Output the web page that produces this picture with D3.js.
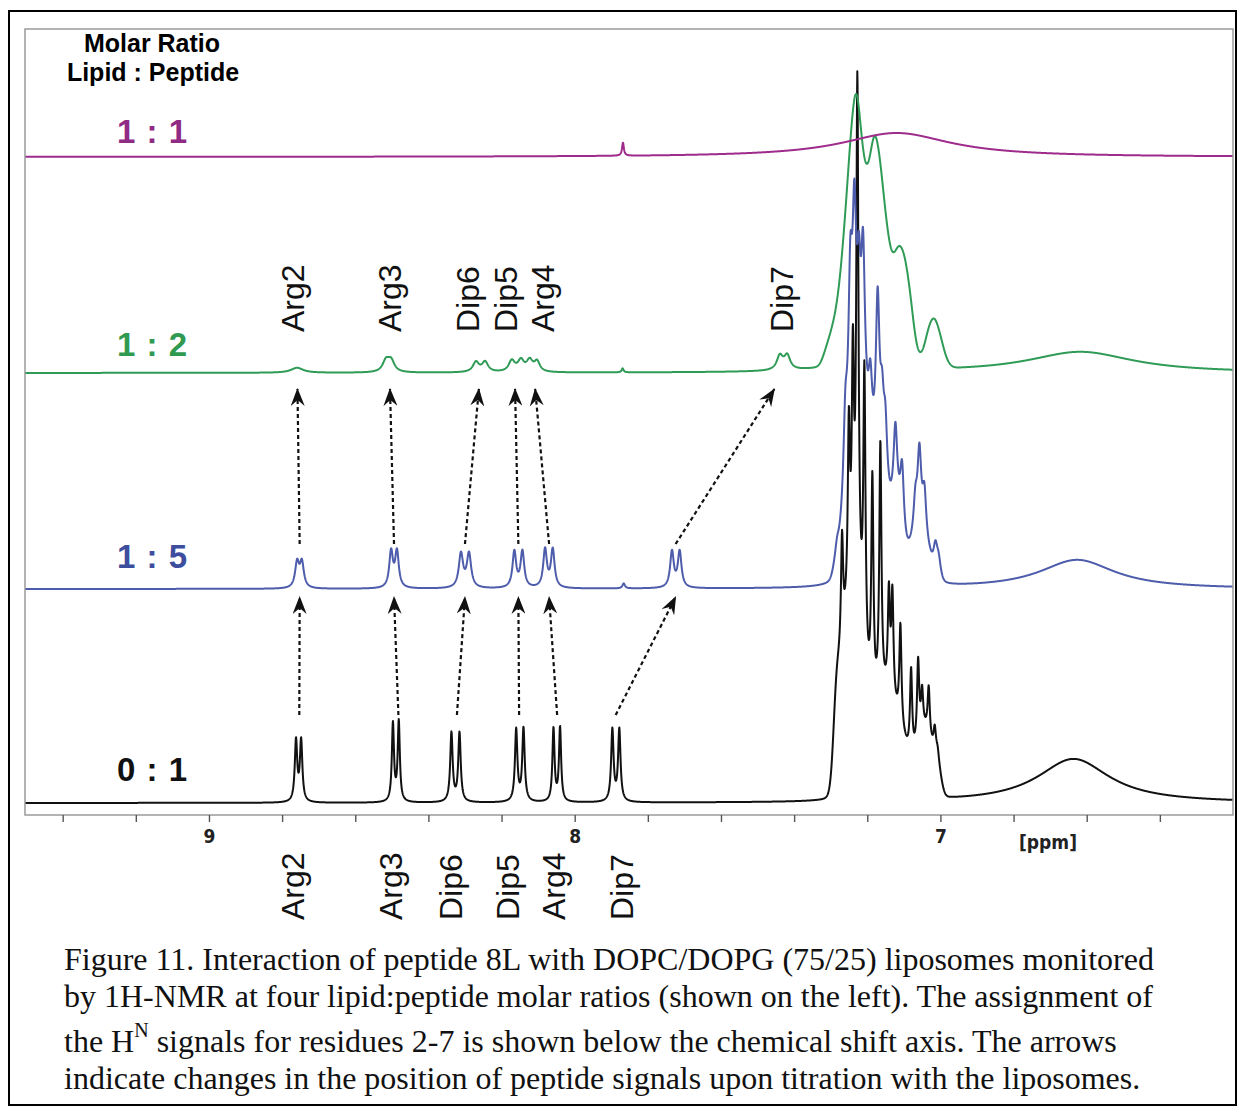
<!DOCTYPE html>
<html>
<head>
<meta charset="utf-8">
<title>Figure 11</title>
<script src="https://cdn.jsdelivr.net/npm/d3@7/dist/d3.min.js"></script>
<style>
  body { margin: 0; background: #fff; }
  text { font-family: "Liberation Sans", Arial, Helvetica, sans-serif; }
  .cond { font-family: "Liberation Sans Narrow", "DejaVu Sans Condensed", "Liberation Sans", Arial, sans-serif; font-weight: bold; }
  .caption { font-family: "Liberation Serif", "Times New Roman", serif; font-size: 32px; }
</style>
</head>
<body>
<svg width="1239" height="1107"></svg>
<script>
// ---- values ----
var ppmRange = [9.503, 6.2];            // axis runs high -> low ppm
var tickPpm = [9.4, 9.2, 9, 8.8, 8.6, 8.4, 8.2, 8, 7.8, 7.6, 7.4, 7.2, 7, 6.8, 6.6, 6.4];
var labelledTicks = [9, 8, 7];

var ratioNames = ["0 : 1", "1 : 5", "1 : 2", "1 : 1"];
var stackLevel = [12, 226, 442, 658];   // vertical stacking of the four traces

// lorentzian lines [ppm, height, half width]
var lines01 = [
  [8.762, 61, 0.004], [8.748, 61, 0.004],
  [8.497, 78, 0.0035], [8.481, 80, 0.0035],
  [8.337, 69, 0.004], [8.315, 69, 0.004],
  [8.160, 72, 0.004], [8.140, 73, 0.004],
  [8.058, 73, 0.0035], [8.040, 74, 0.0035],
  [7.897, 72, 0.004], [7.878, 72, 0.004],
  [7.2690, 110, 0.0035], [7.2503, 170, 0.0035], [7.2394, 220, 0.0035], [7.2271, 505, 0.0035],
  [7.2079, 280, 0.0035], [7.1861, 220, 0.0035], [7.1642, 250, 0.0035], [7.1409, 100, 0.0035],
  [7.1313, 105, 0.0035], [7.1094, 100, 0.0035], [7.0802, 85, 0.0035], [7.0610, 80, 0.0035],
  [7.0501, 38, 0.0035], [7.0320, 48, 0.0035], [7.0156, 20, 0.0035], [7.0074, 6, 0.0035],
  [6.636, 44, 0.12]
];
// gaussian bands under the crowded aromatic region [ppm, height, sigma]
var bands01 = [
  [7.2853, 50, 0.008], [7.2716, 95, 0.0137], [7.2497, 125, 0.0137], [7.2271, 140, 0.0137],
  [7.2052, 70, 0.0137], [7.1833, 50, 0.0137], [7.1614, 67, 0.0137], [7.1395, 62, 0.0137],
  [7.1176, 52, 0.0137], [7.0958, 32, 0.0137], [7.0739, 20, 0.0137], [7.0520, 45, 0.0137],
  [7.0301, 45, 0.0137], [7.0109, 25, 0.008], [7.0000, 10, 0.008]
];

var lines15 = [
  [8.759, 25, 0.0065], [8.746, 25, 0.0065],
  [8.502, 36, 0.006], [8.486, 36, 0.006],
  [8.311, 34, 0.007], [8.289, 34, 0.007],
  [8.165, 36, 0.006], [8.143, 36, 0.006],
  [8.081, 38, 0.006], [8.060, 38, 0.006],
  [7.866, 5, 0.004],
  [7.734, 36, 0.006], [7.713, 36, 0.006],
  [7.2826, 10, 0.006], [7.2600, 70, 0.006], [7.2463, 140, 0.006], [7.2353, 165, 0.006],
  [7.2230, 100, 0.006], [7.2115, 150, 0.006], [7.1916, 60, 0.006], [7.1716, 160, 0.006],
  [7.1596, 60, 0.006], [7.1505, 60, 0.006], [7.1231, 78, 0.006], [7.1048, 65, 0.006],
  [7.0684, 35, 0.006], [7.0575, 78, 0.006], [7.0438, 45, 0.006], [7.0137, 20, 0.006],
  [7.0046, 10, 0.006],
  [6.626, 29, 0.125]
];
var bands15 = [
  [7.2853, 10, 0.008], [7.2662, 30, 0.0137], [7.2463, 95, 0.0137], [7.2271, 115, 0.0137],
  [7.2052, 100, 0.0137], [7.1833, 70, 0.0137], [7.1614, 72, 0.0137], [7.1395, 35, 0.0137],
  [7.1176, 55, 0.0137], [7.0958, 10, 0.0137], [7.0739, 25, 0.0137], [7.0520, 35, 0.0137],
  [7.0301, 16, 0.0137], [7.0082, 12, 0.008]
];

var lines12 = [
  [8.759, 5, 0.02],
  [8.516, 11, 0.011], [8.502, 11, 0.011],
  [8.270, 10, 0.01], [8.245, 10, 0.01],
  [8.172, 11, 0.01], [8.147, 11, 0.01],
  [8.123, 11, 0.01], [8.103, 10, 0.009],
  [7.869, 4, 0.003],
  [7.439, 14, 0.01], [7.419, 14, 0.01],
  [7.23, 12, 0.08],
  [6.617, 21, 0.176]
];
var bands12 = [
  [7.3119, 12, 0.011], [7.2955, 22, 0.011], [7.2791, 38, 0.011], [7.2627, 78, 0.011],
  [7.2463, 132, 0.011], [7.2299, 180, 0.011], [7.2135, 120, 0.011], [7.1970, 108, 0.011],
  [7.1806, 148, 0.011], [7.1642, 122, 0.011], [7.1478, 84, 0.011], [7.1313, 60, 0.011],
  [7.1149, 76, 0.011], [7.0985, 70, 0.011], [7.0821, 46, 0.011], [7.0657, 8, 0.011],
  [7.0492, 6, 0.011], [7.0328, 26, 0.011], [7.0164, 34, 0.011], [7.0000, 20, 0.011],
  [6.9836, 4, 0.011]
];

var lines11 = [
  [7.868, 13, 0.003],
  [7.12, 24, 0.18]
];
var bands11 = [];

// residue assignments: chemical shift of each doublet in three of the spectra
var residues = ["Arg2", "Arg3", "Dip6", "Dip5", "Arg4", "Dip7"];
var shift01 = [8.753, 8.482, 8.322, 8.152, 8.048, 7.888];
var shift15 = [8.752, 8.494, 8.300, 8.154, 8.070, 7.724];
var shift12 = [8.758, 8.505, 8.262, 8.163, 8.108, 7.454];
var topLabelPpm = [8.763, 8.498, 8.285, 8.181, 8.080, 7.427];
var bottomLabelPpm = [8.762, 8.494, 8.330, 8.174, 8.048, 7.862];

var captionLines = [
  "Figure 11. Interaction of peptide 8L with DOPC/DOPG (75/25) liposomes monitored",
  "by 1H-NMR at four lipid:peptide molar ratios (shown on the left). The assignment of",
  null,
  "indicate changes in the position of peptide signals upon titration with the liposomes."
];

// ---- drawing ----
var traceColors = ["#111111", "#4d5cab", "#2f9b57", "#9f2b8d"];
var nameColors = ["#111111", "#3d4e9e", "#2f9a50", "#8f2a85"];
var nameBaseline = [781, 568, 356, 143];

var svg = d3.select("svg");
var plot = {left: 25, right: 1233, top: 29, bottom: 815};

var x = d3.scaleLinear().domain(ppmRange).range([plot.left, plot.right]);
var y = d3.scaleLinear().domain([0, 786]).range([plot.bottom, plot.top]);

function lorentz(p, d){ var u = (p - d[0]) / d[2]; return d[1] / (1 + u * u); }
function gauss(p, d){ var u = (p - d[0]) / d[2]; return d[1] * Math.exp(-0.5 * u * u); }

var nPts = 5000;
var grid = d3.range(nPts + 1).map(function(i){
  return ppmRange[0] + (ppmRange[1] - ppmRange[0]) * i / nPts;
});

function trace(lines, bands){
  return grid.map(function(p){
    var v = 0;
    lines.forEach(function(d){ v += lorentz(p, d); });
    bands.forEach(function(d){ v += gauss(p, d); });
    return [p, v];
  });
}

var spectra = [
  {lines: lines01, bands: bands01},
  {lines: lines15, bands: bands15},
  {lines: lines12, bands: bands12},
  {lines: lines11, bands: bands11}
];

// outer border
svg.append("rect")
  .attr("x", 9).attr("y", 11).attr("width", 1227).attr("height", 1094)
  .attr("fill", "none").attr("stroke", "#000").attr("stroke-width", 2);

svg.append("defs").append("clipPath").attr("id", "clip")
  .append("rect")
  .attr("x", plot.left).attr("y", plot.top)
  .attr("width", plot.right - plot.left).attr("height", plot.bottom - plot.top);

var chart = svg.append("g").attr("clip-path", "url(#clip)");

spectra.forEach(function(s, i){
  var line = d3.line()
    .x(function(d){ return x(d[0]); })
    .y(function(d){ return y(stackLevel[i] + d[1]); });
  chart.append("path")
    .attr("d", line(trace(s.lines, s.bands)))
    .attr("fill", "none")
    .attr("stroke", traceColors[i])
    .attr("stroke-width", 2)
    .attr("stroke-linejoin", "round");
});

// frame
svg.append("rect")
  .attr("x", plot.left).attr("y", plot.top)
  .attr("width", plot.right - plot.left).attr("height", plot.bottom - plot.top)
  .attr("fill", "none").attr("stroke", "#9a9a9a").attr("stroke-width", 1.5);

// axis
var xAxis = d3.axisBottom(x)
  .tickValues(tickPpm)
  .tickSize(7)
  .tickFormat(function(d){ return labelledTicks.indexOf(d) >= 0 ? d3.format("d")(d) : ""; });

var axisG = svg.append("g")
  .attr("transform", "translate(0," + plot.bottom + ")")
  .call(xAxis);
axisG.select(".domain").remove();
axisG.selectAll(".tick line").attr("stroke", "#555").attr("stroke-width", 1.4);
axisG.selectAll(".tick text")
  .attr("class", "cond")
  .attr("y", 28).attr("dy", null)
  .attr("font-size", 19)
  .attr("fill", "#222");

svg.append("text")
  .attr("class", "cond")
  .attr("x", 1048).attr("y", 849)
  .attr("text-anchor", "middle")
  .attr("font-size", 19)
  .attr("fill", "#222")
  .text("[ppm]");

// left-hand labels
svg.append("text")
  .attr("x", 152).attr("y", 52)
  .attr("text-anchor", "middle")
  .attr("font-size", 25).attr("font-weight", "bold")
  .text("Molar Ratio");
svg.append("text")
  .attr("x", 153).attr("y", 81)
  .attr("text-anchor", "middle")
  .attr("font-size", 25).attr("font-weight", "bold")
  .text("Lipid : Peptide");

ratioNames.forEach(function(n, i){
  svg.append("text")
    .attr("x", 117)
    .attr("y", nameBaseline[i])
    .attr("font-size", 33).attr("font-weight", "bold")
    .attr("letter-spacing", 1)
    .attr("fill", nameColors[i])
    .text(n);
});

// assignment labels (rotated)
function rotatedLabels(ppms, yBase){
  svg.selectAll(null)
    .data(residues)
    .enter().append("text")
    .attr("transform", function(d, i){ return "translate(" + x(ppms[i]) + "," + yBase + ") rotate(-90)"; })
    .attr("dy", "0.26em")
    .attr("font-size", 32)
    .attr("fill", "#111")
    .text(function(d){ return d; });
}
rotatedLabels(topLabelPpm, y(stackLevel[2]) - 41);
rotatedLabels(bottomLabelPpm, 920);

// arrows
svg.select("defs").append("marker")
  .attr("id", "head")
  .attr("viewBox", "0 0 18 14")
  .attr("refX", 17).attr("refY", 7)
  .attr("markerWidth", 18).attr("markerHeight", 14)
  .attr("markerUnits", "userSpaceOnUse")
  .attr("orient", "auto")
  .append("path")
  .attr("d", "M0,0 L18,7 L0,14 L6,7 Z")
  .attr("fill", "#111");

function arrows(fromPpm, toPpm, yFrom, yTo){
  svg.selectAll(null)
    .data(residues)
    .enter().append("line")
    .attr("x1", function(d, i){ return x(fromPpm[i]); })
    .attr("y1", yFrom)
    .attr("x2", function(d, i){ return x(toPpm[i]); })
    .attr("y2", yTo)
    .attr("stroke", "#111")
    .attr("stroke-width", 2.2)
    .attr("stroke-dasharray", "4,3")
    .attr("marker-end", "url(#head)");
}
arrows(shift01, shift15, y(stackLevel[0] + 88), y(stackLevel[1] - 8));
arrows(shift15, shift12, y(stackLevel[1] + 45), y(stackLevel[2] - 16));

// caption
var cap = svg.append("text").attr("class", "caption").attr("fill", "#111");
cap.append("tspan").attr("x", 64).attr("y", 970).text(captionLines[0]);
cap.append("tspan").attr("x", 64).attr("y", 1007).text(captionLines[1]);
var l3 = svg.append("text").attr("class", "caption").attr("fill", "#111")
  .attr("x", 64).attr("y", 1052);
l3.append("tspan").text("the H");
l3.append("tspan").attr("font-size", 20).attr("dy", -15).text("N");
l3.append("tspan").attr("dy", 15).text(" signals for residues 2-7 is shown below the chemical shift axis. The arrows");
svg.append("text").attr("class", "caption").attr("fill", "#111")
  .attr("x", 64).attr("y", 1089).text(captionLines[3]);
</script>
</body>
</html>
